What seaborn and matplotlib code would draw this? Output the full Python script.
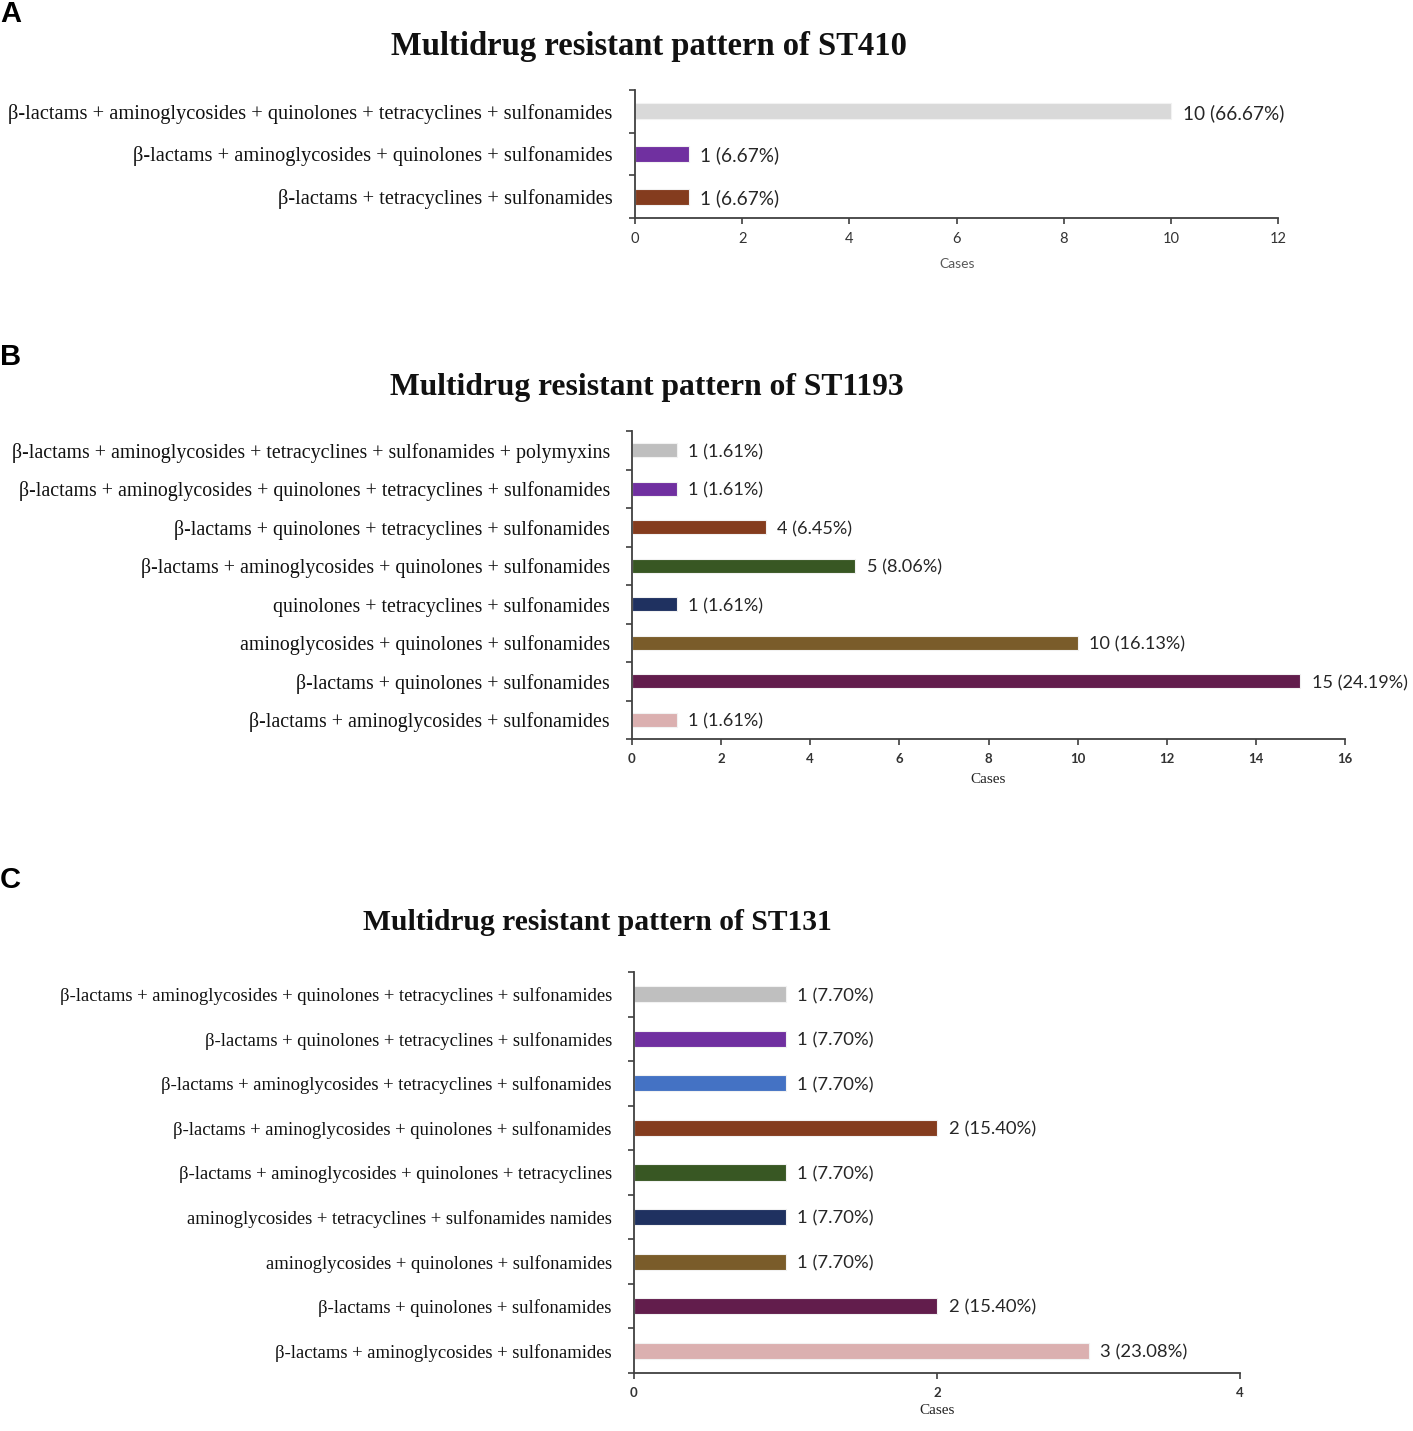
import numpy as np
import pandas as pd
import matplotlib
matplotlib.use("Agg")
import matplotlib.pyplot as plt
import seaborn as sns

# ---------------- data ----------------
a_patterns = [
    "β-lactams + aminoglycosides + quinolones + tetracyclines + sulfonamides",
    "β-lactams + aminoglycosides + quinolones + sulfonamides",
    "β-lactams + tetracyclines + sulfonamides",
]
a_cases = [10, 1, 1]
a_labels = ["10 (66.67%)", "1 (6.67%)", "1 (6.67%)"]
a_colors = ["#d9d9d9", "#7030a0", "#843c1e"]

b_patterns = [
    "β-lactams + aminoglycosides + tetracyclines + sulfonamides + polymyxins",
    "β-lactams + aminoglycosides + quinolones + tetracyclines + sulfonamides",
    "β-lactams + quinolones + tetracyclines + sulfonamides",
    "β-lactams + aminoglycosides + quinolones + sulfonamides",
    "quinolones + tetracyclines + sulfonamides",
    "aminoglycosides + quinolones + sulfonamides",
    "β-lactams + quinolones + sulfonamides",
    "β-lactams + aminoglycosides + sulfonamides",
]
b_cases = [1, 1, 3, 5, 1, 10, 15, 1]
b_labels = ["1 (1.61%)", "1 (1.61%)", "4 (6.45%)", "5 (8.06%)",
            "1 (1.61%)", "10 (16.13%)", "15 (24.19%)", "1 (1.61%)"]
b_colors = ["#bfbfbf", "#7030a0", "#843c1e", "#385723", "#1f3160",
            "#7a5c2a", "#621d4c", "#dbb0b0"]

c_patterns = [
    "β-lactams + aminoglycosides + quinolones + tetracyclines + sulfonamides",
    "β-lactams + quinolones + tetracyclines + sulfonamides",
    "β-lactams + aminoglycosides + tetracyclines + sulfonamides",
    "β-lactams + aminoglycosides + quinolones + sulfonamides",
    "β-lactams + aminoglycosides + quinolones + tetracyclines",
    "aminoglycosides + tetracyclines + sulfonamides namides",
    "aminoglycosides + quinolones + sulfonamides",
    "β-lactams + quinolones + sulfonamides",
    "β-lactams + aminoglycosides + sulfonamides",
]
c_cases = [1, 1, 1, 2, 1, 1, 1, 2, 3]
c_labels = ["1 (7.70%)", "1 (7.70%)", "1 (7.70%)", "2 (15.40%)", "1 (7.70%)",
            "1 (7.70%)", "1 (7.70%)", "2 (15.40%)", "3 (23.08%)"]
c_colors = ["#bfbfbf", "#7030a0", "#4472c4", "#843c1e", "#385723",
            "#1f3160", "#7a5c2a", "#621d4c", "#dbb0b0"]

titles = ["Multidrug resistant pattern of ST410",
          "Multidrug resistant pattern of ST1193",
          "Multidrug resistant pattern of ST131"]
panel_letters = ["A", "B", "C"]
xlabel = "Cases"

# ---------------- layout ----------------
W, H = 1413, 1431
DPI = 100
sns.set_theme(style="white")
plt.rcParams["font.family"] = ["Liberation Serif", "DejaVu Serif"]

fig = plt.figure(figsize=(W / DPI, H / DPI), dpi=DPI)
fig.patch.set_facecolor("white")


def rect(l, t, r, b):
    return [l / W, 1 - b / H, (r - l) / W, (b - t) / H]


def fx(x):
    return x / W


def fy(y):
    return 1 - y / H


SERIF = ["Liberation Serif", "DejaVu Serif"]
SANS = ["Lato", "DejaVu Sans"]

panels = [
    dict(patterns=a_patterns, cases=a_cases, labels=a_labels, colors=a_colors,
         box=(635, 90, 1278, 218), xmax=12, ylab_fs=14.7, val_fs=13.7,
         tick_fs=10.5, tick_w="normal", title_xy=(649, 47), title_fs=23.5,
         xl_xy=(957, 264), xl_font=SANS, xl_fs=10, xl_color="#595959",
         letter_y=14, width=0.38),
    dict(patterns=b_patterns, cases=b_cases, labels=b_labels, colors=b_colors,
         box=(632, 431, 1345, 739), xmax=16, ylab_fs=14.3, val_fs=13.1,
         tick_fs=9.5, tick_w="bold", title_xy=(647, 388), title_fs=22.8,
         xl_xy=(988, 780), xl_font=SERIF, xl_fs=11, xl_color="#222222",
         letter_y=357, width=0.37),
    dict(patterns=c_patterns, cases=c_cases, labels=c_labels, colors=c_colors,
         box=(634, 972, 1240, 1373), xmax=4, ylab_fs=13.4, val_fs=13.3,
         tick_fs=9.5, tick_w="bold", title_xy=(597, 923), title_fs=21.3,
         xl_xy=(937, 1410), xl_font=SERIF, xl_fs=11, xl_color="#222222",
         letter_y=880, width=0.36),
]

AX_COLOR = "#404040"

for i, p in enumerate(panels):
    ax = fig.add_axes(rect(*p["box"]))
    df = pd.DataFrame({"pattern": p["patterns"], "cases": p["cases"]})
    sns.barplot(data=df, y="pattern", x="cases", hue="pattern",
                palette=p["colors"], orient="h", ax=ax, width=p["width"],
                legend=False, edgecolor="#f2f2f2", linewidth=0.8,
                errorbar=None, saturation=1)
    n = len(p["patterns"])
    ax.set_xlim(0, p["xmax"])
    ax.set_ylim(n - 0.5, -0.5)
    ax.set_xticks(np.arange(0, p["xmax"] + 0.1, 2))
    ax.set_ylabel("")
    ax.set_xlabel("")
    for s in ["top", "right"]:
        ax.spines[s].set_visible(False)
    for s in ["left", "bottom"]:
        ax.spines[s].set_color(AX_COLOR)
        ax.spines[s].set_linewidth(1.3)
    ax.set_yticks(np.arange(-0.5, n, 1.0), minor=True)
    ax.tick_params(axis="y", which="major", length=0, pad=16,
                   labelsize=p["ylab_fs"], labelcolor="#111111")
    ax.tick_params(axis="y", which="minor", length=4, width=1.2,
                   color=AX_COLOR, direction="out", left=True)
    ax.tick_params(axis="x", which="major", length=4, width=1.2,
                   color=AX_COLOR, direction="out", bottom=True, pad=6,
                   labelsize=p["tick_fs"], labelcolor="#333333")
    for lab in ax.get_yticklabels():
        lab.set_family(SERIF)
    for lab in ax.get_xticklabels():
        lab.set_family(SANS)
        lab.set_fontweight(p["tick_w"])
    # value labels
    bars = [b for cont in ax.containers for b in cont]
    bars = sorted(bars, key=lambda b: b.get_y())
    for bar, txt in zip(bars, p["labels"]):
        ax.annotate(txt, xy=(bar.get_width(), bar.get_y() + bar.get_height() / 2),
                    xytext=(8.5, -1.2), textcoords="offset points",
                    ha="left", va="center", fontsize=p["val_fs"],
                    family=SANS, color="#262626", annotation_clip=False)
    # title, x label, panel letter
    fig.text(fx(p["title_xy"][0]), fy(p["title_xy"][1]), titles[i],
             ha="center", va="center", fontsize=p["title_fs"],
             fontweight="bold", family=SERIF, color="#111111")
    fig.text(fx(p["xl_xy"][0]), fy(p["xl_xy"][1]), xlabel,
             ha="center", va="center", fontsize=p["xl_fs"],
             family=p["xl_font"], color=p["xl_color"])
    fig.text(fx(0), fy(p["letter_y"]), panel_letters[i], ha="left",
             va="center", fontsize=21, fontweight="bold",
             family=["Liberation Sans", "DejaVu Sans"], color="black")

fig.savefig("out.png", dpi=DPI, facecolor="white")
